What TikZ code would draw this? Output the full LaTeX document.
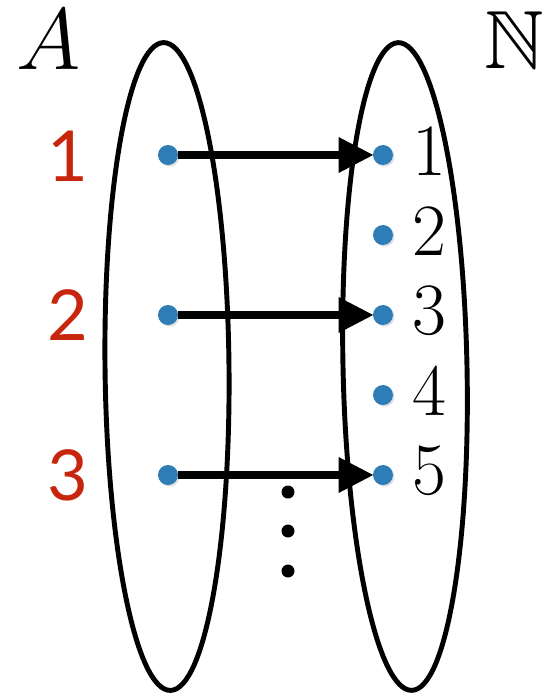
\documentclass[tikz,border=0pt]{standalone}
\usepackage{fontspec}
\usepackage{amssymb}
\newfontfamily\elemfont{Lato}
\usetikzlibrary{arrows.meta,shapes.geometric,shadows,positioning}

\definecolor{dotblue}{RGB}{46,125,182}
\definecolor{elemred}{RGB}{200,38,12}

\begin{document}
\begin{tikzpicture}[
    x=0.02cm, y=-0.02cm,
    setshape/.style={ellipse, draw=black, line width=2.8pt, minimum width=2.48cm,
                     minimum height=12.96cm, inner sep=0pt},
    elem/.style={circle, fill=dotblue, minimum size=0.4cm, inner sep=0pt,
                 drop shadow={opacity=0.25, shadow xshift=0.8pt, shadow yshift=-1pt}},
    more/.style={circle, fill=black, minimum size=0.26cm, inner sep=0pt},
    redlbl/.style={text=elemred, font=\elemfont\fontsize{40}{40}\selectfont, inner sep=0pt},
    numlbl/.style={font=\fontsize{42}{42}\selectfont, inner sep=0pt, right=0.38cm of #1, yshift=0.08cm},
    maparr/.style={-{Triangle[length=0.7cm, width=0.68cm]}, line width=4pt, shorten >=-0.5pt}
]
\useasboundingbox (0,0) rectangle (543,697);

% ---- Sets ----
\node[setshape, rotate=0.6] (setA) at (167,366.5) {};
\node[setshape, rotate=1.2] (setN) at (405,366.5) {};
\node[font=\fontsize{24.88}{25}\selectfont, inner sep=0pt, scale=2, transform shape] (nameA) at (49,40) {$A$};
\node[font=\fontsize{47}{47}\selectfont, inner sep=0pt] (nameN) at (514,40) {$\mathbb{N}$};

% ---- Elements of A ----
\node[elem] (a1) at (168,155) {};
\node[elem] (a2) at (168,315) {};
\node[elem] (a3) at (168,475) {};
\node[redlbl] (la1) at (68,156) {1};
\node[redlbl] (la2) at (68,315) {2};
\node[redlbl] (la3) at (68,475) {3};

% ---- Natural numbers ----
\node[elem] (n1) at (383,155) {};
\node[elem] (n2) at (383,235) {};
\node[elem] (n3) at (383,315) {};
\node[elem] (n4) at (383,395) {};
\node[elem] (n5) at (383,475) {};
\node[numlbl=n1] (ln1) {1};
\node[numlbl=n2] (ln2) {2};
\node[numlbl=n3] (ln3) {3};
\node[numlbl=n4] (ln4) {4};
\node[numlbl=n5] (ln5) {5};

% ---- Map ----
\draw[maparr] (a1) -- (n1);
\draw[maparr] (a2) -- (n3);
\draw[maparr] (a3) -- (n5);

% ---- Dots ----
\node[more] (dd1) at (288,492) {};
\node[more] (dd2) at (288,531) {};
\node[more] (dd3) at (288,571) {};

\end{tikzpicture}
\end{document}
